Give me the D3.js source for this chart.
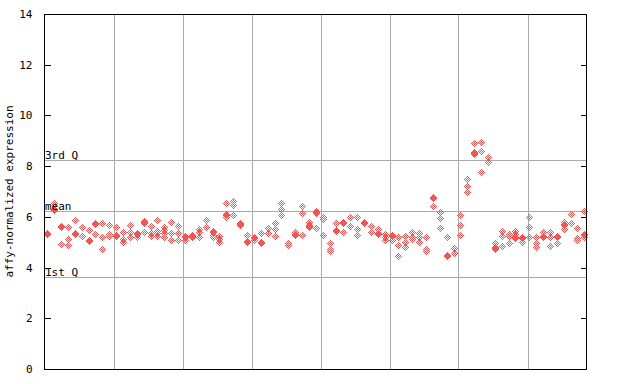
<!DOCTYPE html>
<html>
<head>
<meta charset="utf-8">
<script src="https://cdn.jsdelivr.net/npm/d3@7"></script>
<style>
html,body{margin:0;padding:0;background:#fff;}
svg{display:block;}
text{font-family:"DejaVu Sans Mono",monospace;font-size:11px;fill:#000;}
</style>
</head>
<body>
<svg id="chart" width="640" height="384"></svg>
<script>
// ---- data ----
// samples, one list of replicate values per sample (x order)
const sampleValues = [
  [5.33,5.37],[6.56,6.27,6.31],[5.59,5.63,4.93],[5.59,5.11,4.89],[5.88,5.35,5.31],
  [5.59,5.24],[5.48,5.09,5.05],[5.70,5.74,5.31],[5.74,5.22,4.72],[5.68,5.33,5.26],
  [5.59,5.26,5.30],[5.39,5.11,5.02],[5.68,5.41,5.19],[5.33,5.37,5.19],[5.83,5.79,5.74,5.39],
  [5.64,5.35,5.26],[5.88,5.45,5.35,5.26],[5.61,5.48,5.35,5.22],[5.78,5.35,5.09],[5.64,5.35,5.09],
  [5.26,5.19,5.09],[5.26,5.30,5.19],[5.51,5.41,5.22],[5.88,5.59],[5.41,5.45,5.28,5.19],
  [5.26,5.13,5.00],[6.53,6.07,6.11,6.01],[6.62,6.47,6.07],[5.74,5.68,5.72],[5.28,5.02,5.06],
  [5.15,5.19,5.09],[5.35,4.96,5.00],[5.55,5.37],[5.74,5.51,5.24],[6.53,6.30,6.07],
  [4.96,4.89],[5.41,5.28,5.32],[6.43,6.16,5.28],[5.81,5.68,5.59,5.63],[6.24,6.20,6.16,5.57],
  [6.01,5.92,5.28],[4.98,4.72,4.64],[5.74,5.45,5.49],[5.81,5.77,5.74,5.41],[5.98,5.64],
  [5.98,5.51,5.28],[5.77,5.81],[5.64,5.39],[5.52,5.35,5.31],[5.31,5.19,5.09],
  [5.27,5.23,5.09],[5.19,4.88,4.47],[5.24,5.01,4.82],[5.41,5.22,5.13],[5.35,5.19,5.01],
  [5.19,4.72,4.64],[6.77,6.73,6.42],[6.18,5.94,5.55],[5.19,4.47,4.51],[4.76,4.58],
  [6.06,5.67,5.27],[7.48,7.22,6.98],[8.90,8.56,8.52,8.48],[8.94,8.58,7.76],[8.35,8.15],
  [4.96,4.83,4.79,4.73],[5.43,5.23,4.85],[5.34,5.24,4.96],[5.43,5.32,5.19,5.15],[5.18,5.22,5.00],
  [5.98,5.59,5.22],[5.22,4.96,4.80],[5.41,5.19,5.23],[5.41,5.19,4.86],[5.19,5.23,4.98],
  [5.78,5.72,5.68,5.52],[6.10,5.74],[5.55,5.15,5.09],[6.23,5.32,5.28,5.22]
];
// group separators (in sample-index units)
const groupSeparators = [9.65, 19.65, 29.7, 39.7, 49.8, 59.7, 69.8];
// summary reference lines
const refLines = [
  {label: "3rd Q", value: 8.23},
  {label: "mean",  value: 6.23},
  {label: "1st Q", value: 3.63}
];
const yTicks = [0, 2, 4, 6, 8, 10, 12, 14];
const yTitle = "affy-normalized expression";

// ---- layout ----
const L = 44, R = 587, T = 14, B = 369;
const svg = d3.select("#chart");
const x = d3.scaleLinear().domain([-0.48, sampleValues.length - 0.61]).range([L, R]);
const y = d3.scaleLinear().domain([0, 14]).range([B, T]);
const red = "#ff5050", grid = "#aaaaaa";

const g = svg.append("g").attr("shape-rendering", "crispEdges");

// vertical separators
g.selectAll("line.sep").data(groupSeparators).join("line")
  .attr("x1", d => Math.round(x(d)) + 0.5).attr("x2", d => Math.round(x(d)) + 0.5)
  .attr("y1", T).attr("y2", B).attr("stroke", grid);

// reference lines
g.selectAll("line.ref").data(refLines).join("line")
  .attr("x1", L).attr("x2", R)
  .attr("y1", d => Math.round(y(d.value)) + 0.5).attr("y2", d => Math.round(y(d.value)) + 0.5)
  .attr("stroke", grid);

// points
const pts = [];
sampleValues.forEach((vals, i) => vals.forEach(v => pts.push({i, v})));
let glyph = "";
for (let dy = -3; dy <= 3; dy++) for (let dx = -3; dx <= 3; dx++) {
  if (Math.abs(dx) + Math.abs(dy) <= 3 && Math.abs(dx + dy) % 2 === 1) glyph += `M${dx},${dy}h1v1h-1z`;
}
g.selectAll("path.pt").data(pts).join("path")
  .attr("d", glyph)
  .attr("transform", d => `translate(${Math.round(x(d.i))},${Math.round(y(d.v))})`)
  .attr("fill", red);

// frame
g.append("rect").attr("x", L + 0.5).attr("y", T + 0.5).attr("width", R - L - 1).attr("height", B - T)
  .attr("fill", "none").attr("stroke", "#000");

// y axis ticks (inward, both sides)
const leftAxis = d3.axisLeft(y).tickValues(yTicks).tickSize(-6).tickPadding(12).tickFormat(d3.format("d"));
const ax = svg.append("g").attr("transform", `translate(${L + 0.5},0)`).call(leftAxis);
ax.select(".domain").remove();
ax.selectAll("text").attr("font-family", "DejaVu Sans Mono").attr("font-size", 11).attr("fill", "#000");
ax.selectAll("line").attr("stroke", "#000").attr("shape-rendering", "crispEdges");
ax.selectAll(".tick").attr("transform", d => `translate(0,${Math.round(y(d)) + 0.5})`);

const rightAxis = d3.axisRight(y).tickValues(yTicks).tickSize(-6).tickFormat("");
const axr = svg.append("g").attr("transform", `translate(${R - 0.5},0)`).call(rightAxis);
axr.select(".domain").remove();
axr.selectAll("line").attr("stroke", "#000").attr("shape-rendering", "crispEdges");
axr.selectAll(".tick").attr("transform", d => `translate(0,${Math.round(y(d)) + 0.5})`);

// ref labels
svg.selectAll("text.ref").data(refLines).join("text")
  .attr("x", L + 1).attr("y", d => Math.round(y(d.value)) - 1)
  .text(d => d.label);

// y title
svg.append("text")
  .attr("transform", `translate(13,${(T + B) / 2}) rotate(-90)`)
  .attr("text-anchor", "middle")
  .text(yTitle);
</script>
</body>
</html>
